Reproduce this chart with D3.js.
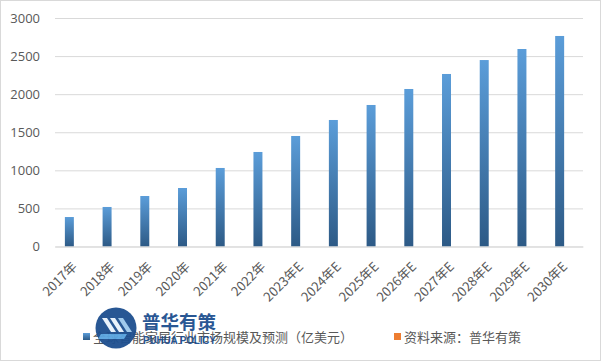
<!DOCTYPE html>
<html>
<head>
<meta charset="utf-8">
<script src="https://cdn.jsdelivr.net/npm/d3@7"></script>
<style>
  body { margin: 0; background: #fff; }
  text { font-family: "Noto Sans CJK SC", "Open Sans", sans-serif; }
</style>
</head>
<body>
<div class="chartBox"></div>
<script>
// data
var years = ['2017年', '2018年', '2019年', '2020年', '2021年', '2022年', '2023年E',
             '2024年E', '2025年E', '2026年E', '2027年E', '2028年E', '2029年E', '2030年E'];
var market = [387, 519, 663, 768, 1031, 1241, 1451, 1661, 1858, 2068, 2265, 2448, 2593, 2764];
var source = [0, 0, 0, 0, 0, 0, 0, 0, 0, 0, 0, 0, 0, 0];
var seriesNames = ['全球智能家居行业市场规模及预测（亿美元）', '资料来源：普华有策'];
var yTicks = [0, 500, 1000, 1500, 2000, 2500, 3000];

var W = 601, H = 361;
var margin = { top: 18, right: 18, bottom: 114.5, left: 55 };

var svg = d3.select('div.chartBox')
  .append('svg')
  .attr('width', W)
  .attr('height', H);

// outer frame
svg.append('rect')
  .attr('x', 0.5).attr('y', 0.5)
  .attr('width', W - 1).attr('height', H - 1)
  .attr('fill', '#fff').attr('stroke', '#d9d9d9');

var defs = svg.append('defs');
var grad = defs.append('linearGradient')
  .attr('id', 'barGrad')
  .attr('x1', 0).attr('y1', 0).attr('x2', 0).attr('y2', 1);
grad.append('stop').attr('offset', '0%').attr('stop-color', '#5b9dd9');
grad.append('stop').attr('offset', '100%').attr('stop-color', '#2d5a86');

var x0 = d3.scaleBand()
  .domain(years)
  .range([margin.left, W - margin.right]);

var x1 = d3.scaleBand()
  .domain([0, 1])
  .range([0, x0.bandwidth()])
  .paddingOuter(1.1);

var y = d3.scaleLinear()
  .domain([0, 3000])
  .range([H - margin.bottom, margin.top]);

// gridlines
var yAxis = d3.axisLeft(y)
  .tickValues(yTicks)
  .tickFormat(d3.format('d'))
  .tickSize(-(W - margin.left - margin.right))
  .tickPadding(15);

var gy = svg.append('g')
  .attr('transform', 'translate(' + margin.left + ',0)')
  .call(yAxis);
gy.select('.domain').remove();
gy.selectAll('line').attr('stroke', '#d9d9d9');
gy.selectAll('text')
  .attr('fill', '#595959')
  .style('font-size', '13px')
  .style('font-family', '"Open Sans", sans-serif');

// bars - series 1
svg.selectAll('rect.bar')
  .data(market)
  .enter()
  .append('rect')
  .attr('class', 'bar')
  .attr('x', function(d, i) { return x0(years[i]) + x1(0); })
  .attr('y', function(d) { return y(d); })
  .attr('width', x1.bandwidth())
  .attr('height', function(d) { return y(0) - y(d); })
  .attr('fill', 'url(#barGrad)');

// series 2 (empty)
svg.selectAll('rect.bar2')
  .data(source)
  .enter()
  .append('rect')
  .attr('class', 'bar2')
  .attr('x', function(d, i) { return x0(years[i]) + x1(1); })
  .attr('y', function(d) { return y(d); })
  .attr('width', x1.bandwidth())
  .attr('height', function(d) { return y(0) - y(d); })
  .attr('fill', '#ed7d31');

// x axis
var xAxis = d3.axisBottom(x0).tickSize(0).tickPadding(0);
var gx = svg.append('g')
  .attr('transform', 'translate(0,' + y(0) + ')')
  .call(xAxis);
gx.select('.domain').attr('stroke', '#d9d9d9');
gx.selectAll('text')
  .attr('fill', '#595959')
  .style('font-size', '13px')
  .attr('text-anchor', 'end')
  .attr('dy', null)
  .attr('y', 0)
  .attr('transform', 'translate(4,21) rotate(-45)');

// legend
var legend = svg.append('g').attr('class', 'legend');
var legX = [83, 394];
var legColors = ['url(#barGrad)', '#ed7d31'];
seriesNames.forEach(function(name, i) {
  legend.append('rect')
    .attr('x', legX[i]).attr('y', 333)
    .attr('width', 7).attr('height', 7)
    .attr('fill', legColors[i]);
  legend.append('text')
    .attr('x', legX[i] + 10).attr('y', 341.5)
    .attr('fill', '#595959')
    .style('font-size', '13px')
    .text(name);
});

// watermark logo
var logo = svg.append('g').attr('opacity', 0.95);
logo.append('circle')
  .attr('cx', 116).attr('cy', 328).attr('r', 20.5)
  .attr('fill', '#1d4f8f');
[0, 1, 2].forEach(function(k) {
  var ox = 102 + k * 8;
  logo.append('path')
    .attr('d', 'M' + ox + ',318 l5,0 l9,14 l-5,0 z')
    .attr('fill', k == 2 ? '#9cc8ec' : '#e8f2fb');
});
logo.append('path')
  .attr('d', 'M101,334 l26,0 l-3,5 l-26,0 z')
  .attr('fill', '#5aa5e0');
logo.append('text')
  .attr('x', 142).attr('y', 328.5)
  .attr('fill', '#1d4f8f')
  .style('font-size', '18.5px')
  .style('font-weight', 'bold')
  .text('普华有策');
logo.append('text')
  .attr('x', 143).attr('y', 343.5)
  .attr('fill', '#1d4f8f')
  .style('font-size', '10px')
  .style('font-weight', 'bold')
  .style('font-family', '"Liberation Sans", sans-serif')
  .attr('textLength', 73)
  .text('PUHUA POLICY');
</script>
</body>
</html>
